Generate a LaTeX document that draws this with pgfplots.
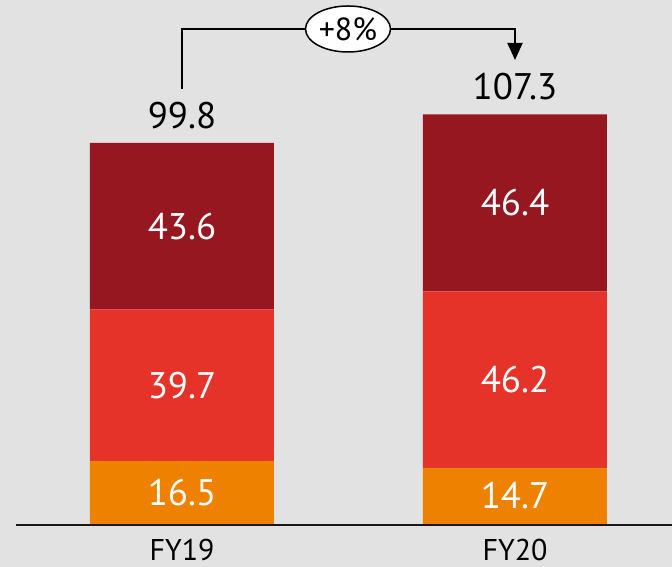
\documentclass[border=0pt]{standalone}
\usepackage{fontspec}
\setmainfont{PT Sans}
\usepackage{pgfplots}
\pgfplotsset{compat=1.18}
\usetikzlibrary{arrows.meta,shapes.geometric}

\definecolor{bgc}{HTML}{E2E2E2}
\definecolor{darkred}{HTML}{96171F}
\definecolor{midred}{HTML}{E6332A}
\definecolor{orangec}{HTML}{EE8100}

\begin{document}
\begin{tikzpicture}[x=1pt,y=1pt]
\path[use as bounding box] (0,0) rectangle (672,567);
\fill[bgc] (0,0) rectangle (672,567);

\begin{axis}[
  at={(0pt,43pt)}, anchor=south west,
  scale only axis, width=672pt, height=524pt,
  xmin=-0.5465, xmax=1.4715, ymin=0, ymax=137.24,
  clip=false,
  ybar stacked, bar width=184pt,
  axis x line=bottom, x axis line style={draw=none},
  hide y axis,
  xtick={0,1}, xticklabels={FY19,FY20},
  major tick length=0pt,
  xticklabel style={anchor=base, yshift=-37pt, inner sep=1pt, font=\fontsize{30}{34}\selectfont, text=black},
  point meta=explicit symbolic,
  nodes near coords={\pgfplotspointmeta},
  every node near coord/.append style={anchor=center, text=white,
    font=\fontsize{37}{40}\selectfont},
]
\addplot[fill=orangec, draw=none] coordinates {(0,16.5)[16.5] (1,14.7)[14.7]};
\addplot[fill=midred, draw=none] coordinates {(0,39.7)[39.7] (1,46.2)[46.2]};
\addplot[fill=darkred, draw=none] coordinates {(0,43.6)[43.6] (1,46.4)[46.4]};

% totals above the bars
\node[anchor=base, yshift=14pt, font=\fontsize{37}{40}\selectfont] at (axis cs:0,99.8) {99.8};
\node[anchor=base, yshift=15pt, font=\fontsize{37}{40}\selectfont] at (axis cs:1,107.3) {107.3};

% baseline
\draw[line width=2pt, black!90] ([yshift=-1pt]axis cs:-0.4985,0) -- ([yshift=-1pt]axis cs:1.4715,0);
\end{axis}

% growth bracket
\draw[line width=2pt, -{Triangle[length=17pt,width=15pt]}]
  (182,478) -- (182,538) -- (515,538) -- (515,507);
\node[draw=black, line width=1.5pt, fill=white, ellipse, minimum width=85pt, minimum height=46pt, inner sep=0pt,
  font=\fontsize{32}{34}\selectfont] at (348,538) {+8\%};
\end{tikzpicture}
\end{document}
